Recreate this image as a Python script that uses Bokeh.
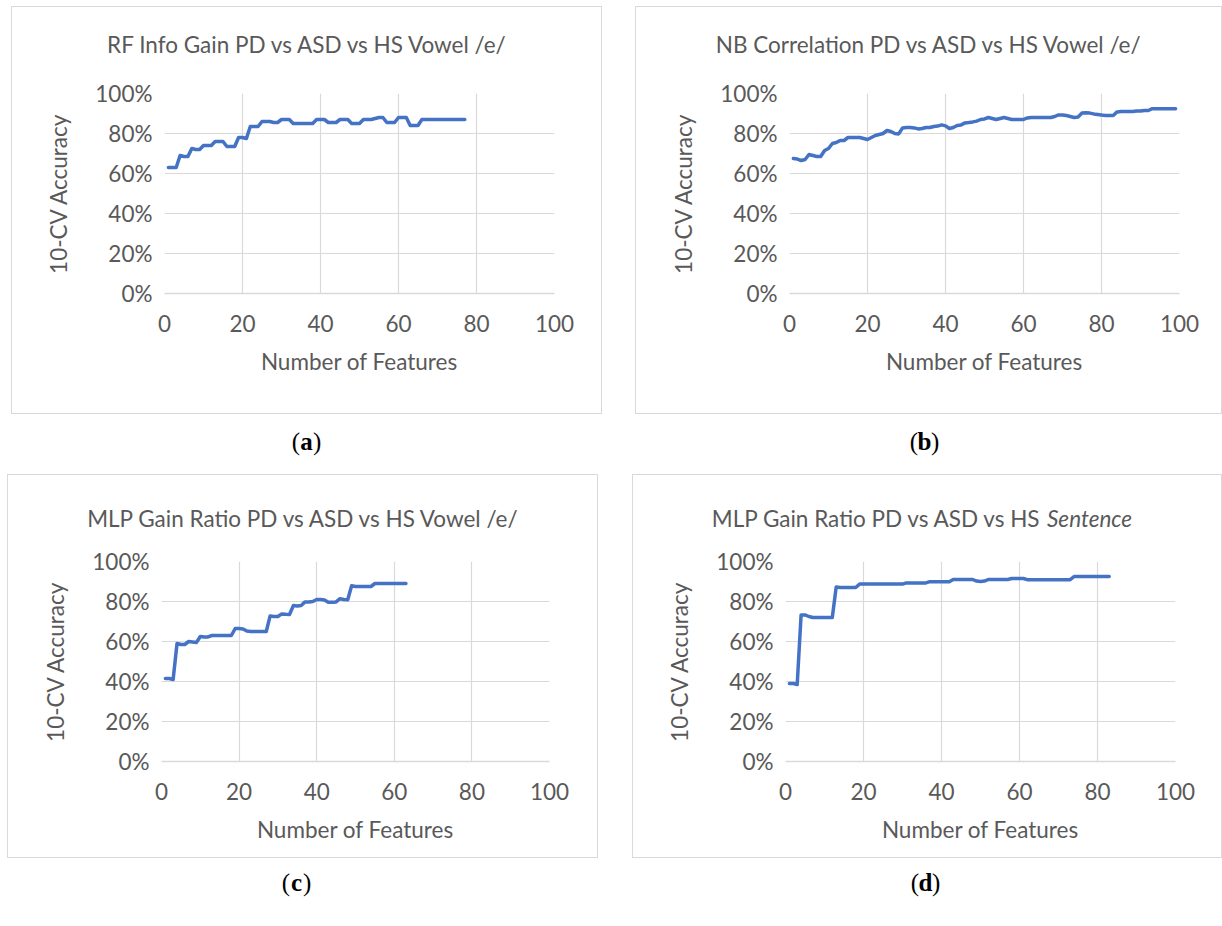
from bokeh.plotting import figure
from bokeh.models import FixedTicker, PrintfTickFormatter, Range1d, Spacer
from bokeh.layouts import row, column
from bokeh.embed import file_html
from bokeh.resources import INLINE
from bokeh.core.properties import value

# ---------------- data ----------------
feat_a = list(range(1, 78))
acc_a = [63, 63, 63, 69, 68.5, 68.5, 72.5, 72, 72, 74, 74, 74, 76, 76, 76,
         73.5, 73.5, 73.5, 78, 78, 77.5, 83.5, 83.5, 83.5, 86, 86, 86, 85.5, 85.5,
         87, 87, 87, 85, 85, 85, 85, 85, 85, 87, 87, 87, 85.5, 85.5, 85.5,
         87, 87, 87, 85, 85, 85, 87, 87, 87, 87.5, 88, 88, 85.5, 85.5, 85.5,
         88, 88, 88, 84, 84, 84, 87, 87, 87, 87, 87, 87, 87, 87, 87, 87, 87, 87]

feat_b = list(range(1, 100))
acc_b = [67.5, 67.2, 66.5, 67, 69.5, 69, 68.5, 68.5, 71.5, 72.5,
         75, 75.5, 76.5, 76.5, 78, 78, 78, 78, 77.5, 77,
         78, 79, 79.5, 80, 81.5, 81, 80, 79.8, 82.8, 83,
         83, 82.8, 82.3, 82.5, 83, 83, 83.5, 83.7, 84.3, 83.8,
         82.5, 83, 84, 84.3, 85.3, 85.5, 85.8, 86.2, 87, 87.3,
         88, 87.5, 87, 87.5, 88, 87.5, 87, 87, 87, 87,
         87.8, 88, 88, 88, 88, 88, 88, 88.5, 89.3, 89.2,
         89, 88.5, 88, 88.3, 90.2, 90.4, 90.2, 89.8, 89.5, 89.2,
         89, 89, 89, 90.8, 91, 91, 91, 91, 91.2, 91.2,
         91.5, 91.5, 92.4, 92.4, 92.4, 92.4, 92.4, 92.4, 92.4]

feat_c = list(range(1, 64))
acc_c = [41.5, 41.5, 41, 59, 58.5, 58.5, 60, 59.8, 59.5, 62.5,
         62.3, 62.3, 63, 63, 63, 63, 63, 63, 66.5, 66.5,
         66.3, 65.2, 65, 65, 65, 65, 65, 72.8, 72.5, 72.5,
         73.8, 73.6, 73.5, 78, 77.7, 78, 79.8, 79.8, 80, 81,
         81, 80.8, 79.6, 79.6, 79.8, 81.4, 81, 80.9, 87.9, 87.5,
         87.5, 87.5, 87.5, 87.5, 89, 89, 89, 89, 89, 89,
         89, 89, 89]

feat_d = list(range(1, 84))
acc_d = [39, 39, 38.5, 73.3, 73.3, 72.5, 72, 72, 72, 72,
         72, 72, 87.3, 87, 87, 87, 87, 87, 88.7, 88.7,
         88.7, 88.7, 88.7, 88.7, 88.7, 88.7, 88.7, 88.7, 88.7, 88.7,
         89.3, 89.3, 89.3, 89.3, 89.3, 89.3,
         89.9, 89.9, 89.9, 89.9, 89.9, 89.9,
         91, 91, 91, 91, 91, 91,
         90.2, 90, 90.2,
         91, 91, 91, 91, 91, 91,
         91.5, 91.5, 91.5, 91.5,
         90.9, 90.9, 90.9, 90.9, 90.9, 90.9, 90.9, 90.9, 90.9, 90.9, 90.9, 90.9,
         92.5, 92.5, 92.5, 92.5, 92.5, 92.5, 92.5, 92.5, 92.5, 92.5]

x_ticks = [0, 20, 40, 60, 80, 100]
y_ticks = [0, 20, 40, 60, 80, 100]

titles = ["RF Info Gain PD vs ASD vs HS Vowel /e/",
          "NB Correlation PD vs ASD vs HS Vowel /e/",
          "MLP Gain Ratio PD vs ASD vs HS Vowel /e/",
          "MLP Gain Ratio PD vs ASD vs HS"]
title_d_italic = "Sentence"
x_label = "Number of Features"
y_label = "10-CV Accuracy"
panel_tags = ["a", "b", "c", "d"]

FONT = "Lato"
TXT = "#595959"
GRID = "#d9d9d9"
LINE = "#4472C4"
FS = "22.5px"
BORDER = "1px solid #d9d9d9"


def panel(feats, acc, w, h, fl, fr, ft, fb):
    p = figure(width=w, height=h, output_backend="svg", toolbar_location=None,
               x_range=Range1d(0, 100), y_range=Range1d(0, 100),
               min_border_left=fl, min_border_right=fr,
               min_border_top=ft, min_border_bottom=fb,
               outline_line_color=None, background_fill_color="white",
               border_fill_color="white")
    p.styles = {"border-left": BORDER, "border-right": BORDER,
                "border-bottom": BORDER, "box-sizing": "border-box"}
    p.line(feats, acc, line_color=LINE, line_width=3.5, line_join="round", line_cap="round")
    p.xaxis.ticker = FixedTicker(ticks=x_ticks)
    p.yaxis.ticker = FixedTicker(ticks=y_ticks)
    p.yaxis.formatter = PrintfTickFormatter(format="%d%%")
    for ax in (p.xaxis[0], p.yaxis[0]):
        ax.major_tick_line_color = None
        ax.minor_tick_line_color = None
        ax.major_tick_out = 0
        ax.major_tick_in = 0
        ax.minor_tick_out = 0
        ax.major_label_text_font = FONT
        ax.major_label_text_font_size = FS
        ax.major_label_text_color = TXT
        ax.axis_label_text_font = FONT
        ax.axis_label_text_font_size = FS
        ax.axis_label_text_color = TXT
        ax.axis_label_text_font_style = "normal"
    p.xaxis.axis_line_color = GRID
    p.xaxis.axis_line_width = 1.5
    p.yaxis.axis_line_color = None
    p.xaxis.major_label_standoff = 21
    p.yaxis.major_label_standoff = 12
    p.xaxis.axis_label = x_label
    p.yaxis.axis_label = y_label
    p.xaxis.axis_label_standoff = 13
    p.yaxis.axis_label_standoff = 20
    p.grid.grid_line_color = GRID
    p.grid.grid_line_width = 1.2
    return p


def title_fig(w, h, cy, parts):
    f = figure(width=w, height=h, output_backend="svg", toolbar_location=None,
               x_range=Range1d(0, w), y_range=Range1d(0, h),
               min_border=0, outline_line_color=None,
               x_axis_location=None, y_axis_location=None)
    f.styles = {"border-left": BORDER, "border-right": BORDER,
                "border-top": BORDER, "box-sizing": "border-box"}
    f.grid.visible = False
    for text, x, align, style, dx in parts:
        f.text(x=[x], y=[cy], text=[text], text_align=align, text_baseline="middle",
               text_font=value(FONT), text_font_size=FS, text_color=TXT,
               text_font_style=style, x_offset=dx)
    return f


def tag_fig(w, h, tag, cx, cy):
    f = figure(width=w, height=h, output_backend="svg", toolbar_location=None,
               x_range=Range1d(0, w), y_range=Range1d(0, h),
               min_border=0, outline_line_color=None,
               x_axis_location=None, y_axis_location=None)
    f.grid.visible = False
    common = dict(text_font=value("Liberation Serif"), text_font_size="25px",
                  text_color="black", text_baseline="middle")
    f.text(x=[cx], y=[cy], text=[tag], text_align="center", text_font_style="bold", **common)
    f.text(x=[cx], y=[cy], text=["("], text_align="right", x_offset=-6.5, **common)
    f.text(x=[cx], y=[cy], text=[")"], text_align="left", x_offset=6.5, **common)
    return f


TH = 60
ta = title_fig(591, TH, 23, [(titles[0], 295.5, "center", "normal", 0)])
tb = title_fig(587, TH, 23, [(titles[1], 293, "center", "normal", 0)])
tc = title_fig(591, TH, 17, [(titles[2], 295.5, "center", "normal", 0)])
td = title_fig(590, TH, 17, [(titles[3], 411, "right", "normal", -2.5),
                             (title_d_italic, 411, "left", "italic", 2.5)])

pa = panel(feat_a, acc_a, 591, 408 - TH, 152, 49, 27, 121)
pb = panel(feat_b, acc_b, 587, 408 - TH, 153, 44, 27, 120)
pc = panel(feat_c, acc_c, 591, 384 - TH, 153, 50, 27, 97)
pd = panel(feat_d, acc_d, 590, 384 - TH, 152, 48, 27, 96)

la = tag_fig(617, 60, panel_tags[0], 306, 33)
lb = tag_fig(605, 60, panel_tags[1], 307, 33)
lc = tag_fig(617, 60, panel_tags[2], 296, 36)
ld = tag_fig(605, 60, panel_tags[3], 308, 36)

layout = column(
    Spacer(height=6),
    row(Spacer(width=11), ta, Spacer(width=33), tb),
    row(Spacer(width=11), pa, Spacer(width=33), pb),
    row(la, lb),
    row(Spacer(width=7), tc, Spacer(width=34), td),
    row(Spacer(width=7), pc, Spacer(width=34), pd),
    row(lc, ld),
)

open("out.html", "w").write(file_html(layout, INLINE))
